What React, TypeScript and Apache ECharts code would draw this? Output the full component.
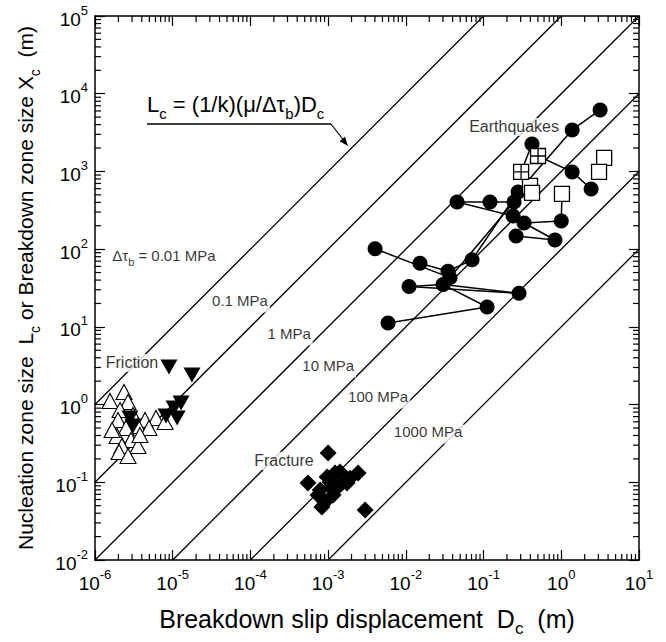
import React, { useEffect, useRef } from "react";
import * as echarts from "echarts";

const X_MIN = 1e-6;
const X_MAX = 10;
const Y_MIN = 1e-2;
const Y_MAX = 1e5;

// Lc / Dc ratio of each constant-stress-drop line, with its label
const lineRatios = [1e6, 1e5, 1e4, 1e3, 1e2, 1e1];
const stressLabels = ["{n|Δτ}{s|b}{n| = 0.01 MPa}", "{n|0.1 MPa}", "{n|1 MPa}", "{n|10 MPa}", "{n|100 MPa}", "{n|1000 MPa}"];
const stressLabelD = [7.7e-6, 7.34e-5, 3.14e-4, 1.0e-3, 4.39e-3, 0.0193];
const stressLabelL = [77, 20.3, 7.64, 2.96, 1.18, 0.419];

const groupLabels = ["Friction", "Fracture", "Earthquakes"];
const groupLabelD = [2.99e-6, 2.7e-4, 0.247];
const groupLabelL = [3.43, 0.188, 3740];

// Earthquakes
const eqCircleD = [3.16, 1.38, 0.42, 1.38, 2.42, 0.0456, 0.121, 0.247, 0.278, 0.24, 0.332, 1.0, 0.262, 0.83, 0.00402, 0.0152, 0.0349, 0.0711, 0.037, 0.0301, 0.011, 0.286, 0.111, 0.0059];
const eqCircleL = [6190, 3420, 2260, 986, 595, 405, 405, 405, 545, 267, 217, 231, 148, 131, 101, 66, 52, 73, 43, 35, 33, 27, 18, 11.2];
const eqOpenSqD = [3.56, 3.06, 0.396, 0.42, 1.02];
const eqOpenSqL = [1490, 986, 650, 529, 513];
const eqCrossSqD = [0.502, 0.304];
const eqCrossSqL = [1580, 986];
const eqLinks: [string, string][] = [
  ["c0", "c1"], ["c1", "c8"], ["c3", "c4"], ["c5", "c6"], ["c6", "c7"], ["c5", "c9"],
  ["c10", "c11"], ["c10", "c13"], ["c12", "c13"], ["c14", "c18"], ["c15", "c16"],
  ["c20", "c19"], ["c20", "c21"], ["c19", "c21"], ["c19", "c22"], ["c23", "c22"],
  ["c16", "c17"], ["c17", "c8"], ["c18", "c7"], ["x0", "c3"], ["x1", "c2"], ["s4", "c11"], ["s3", "c8"],
];

// Friction
const fricOpenD = [1.56e-6, 2.36e-6, 2.66e-6, 2.1e-6, 3.08e-6, 1.98e-6, 4.4e-6, 6.1e-6, 7.96e-6, 3.57e-6, 2.51e-6, 4.95e-6, 1.92e-6, 2.9e-6, 2.22e-6, 3.57e-6, 2.04e-6, 2.66e-6, 1.66e-6, 3.79e-6];
const fricOpenL = [1.11, 1.45, 1.08, 0.853, 0.734, 0.634, 0.634, 0.673, 0.597, 0.531, 0.5, 0.5, 0.394, 0.35, 0.293, 0.293, 0.245, 0.218, 0.471, 0.406];
const fricFilledD = [8.95e-6, 1.77e-5, 1.28e-5, 1.04e-5, 8.2e-6, 1.14e-5, 2.82e-6, 3.08e-6];
const fricFilledL = [3.05, 2.4, 1.05, 0.904, 0.713, 0.673, 0.673, 0.531];

// Fracture
const fracD = [1.0e-3, 5.5e-4, 7.9e-4, 9.7e-4, 1.23e-3, 1.42e-3, 1.91e-3, 2.43e-3, 1.12e-3, 9.1e-4, 8.3e-4, 1.16e-3, 1.75e-3, 2.99e-3, 7.4e-4, 1.42e-3, 1.06e-3];
const fracL = [0.238, 0.098, 0.0796, 0.117, 0.132, 0.136, 0.113, 0.132, 0.0845, 0.0557, 0.048, 0.0687, 0.098, 0.044, 0.0687, 0.092, 0.101];

const FONT = "'Liberation Sans', Arial, Helvetica, sans-serif";

const zip = (a: number[], b: number[]) => a.map((v, i) => [v, b[i]]);

function pointOf(id: string): number[] {
  const k = id[0];
  const i = parseInt(id.slice(1), 10);
  if (k === "c") return [eqCircleD[i], eqCircleL[i]];
  if (k === "s") return [eqOpenSqD[i], eqOpenSqL[i]];
  return [eqCrossSqD[i], eqCrossSqL[i]];
}

function minorValues(lo: number, hi: number): number[] {
  const out: number[] = [];
  for (let e = Math.round(Math.log10(lo)); e < Math.round(Math.log10(hi)); e++) {
    for (let m = 2; m <= 9; m++) out.push(m * Math.pow(10, e));
  }
  return out;
}

const tickLabelRich = {
  b: { fontSize: 19, lineHeight: 25, verticalAlign: "bottom", color: "#000", fontFamily: FONT },
  s: { fontSize: 13, verticalAlign: "top", color: "#000", fontFamily: FONT },
};
const expFormatter = (v: number) => `{b|10}{s|${Math.round(Math.log10(v))}}`;

export default function App() {
  const ref = useRef<HTMLDivElement>(null);
  useEffect(() => {
    if (!ref.current) return;
    const chart = echarts.init(ref.current, undefined, { renderer: "svg" });

    const refLineData = lineRatios.map((c) => {
      const ds = Math.max(X_MIN, Y_MIN / c);
      const de = Math.min(X_MAX, Y_MAX / c);
      return { coords: [[ds, c * ds], [de, c * de]] };
    });

    const axisCommon = {
      type: "log",
      logBase: 10,
      axisLine: { show: true, lineStyle: { color: "#000", width: 1.5 } },
      axisTick: { show: true, inside: true, length: 10, lineStyle: { color: "#000", width: 1.2 } },
      splitLine: { show: false },
      minorTick: { show: false },
    };

    const option: any = {
      animation: false,
      backgroundColor: "#fff",
      grid: { left: 95, right: 27, top: 16, bottom: 82, containLabel: false },
      xAxis: [
        {
          ...axisCommon,
          min: X_MIN,
          max: X_MAX,
          position: "bottom",
          axisLabel: { margin: 8, formatter: expFormatter, rich: tickLabelRich },
          name: "{n|Breakdown slip displacement  D}{s|c}{n|  (m)}",
          nameLocation: "middle",
          nameGap: 46,
          nameTextStyle: {
            rich: {
              n: { fontSize: 25, lineHeight: 31, verticalAlign: "top", color: "#000", fontFamily: FONT },
              s: { fontSize: 17, verticalAlign: "bottom", color: "#000", fontFamily: FONT },
            },
          },
        },
        { ...axisCommon, min: X_MIN, max: X_MAX, position: "top", axisLabel: { show: false } },
      ],
      yAxis: [
        {
          ...axisCommon,
          min: Y_MIN,
          max: Y_MAX,
          position: "left",
          axisLabel: { margin: 7, formatter: expFormatter, rich: tickLabelRich },
          name: "{n|Nucleation zone size  L}{s|c}{n| or Breakdown zone size X}{s|c}{n|  (m)}",
          nameLocation: "middle",
          nameRotate: 90,
          nameGap: 53,
          nameTextStyle: {
            rich: {
              n: { fontSize: 21, lineHeight: 27, verticalAlign: "top", color: "#000", fontFamily: FONT },
              s: { fontSize: 14, verticalAlign: "bottom", color: "#000", fontFamily: FONT },
            },
          },
        },
        { ...axisCommon, min: Y_MIN, max: Y_MAX, position: "right", axisLabel: { show: false } },
      ],
      graphic: [
        {
          type: "text",
          x: 147,
          y: 107,
          z: 10,
          style: {
            text: "{n|L}{s|c}{n| = (1/k)(μ/Δτ}{s|b}{n|)D}{s|c}",
            verticalAlign: "middle",
            align: "left",
            rich: {
              n: { fontSize: 22, lineHeight: 27, verticalAlign: "top", fill: "#000", fontFamily: FONT },
              s: { fontSize: 15, verticalAlign: "bottom", fill: "#000", fontFamily: FONT },
            },
          },
        },
        { type: "line", z: 10, shape: { x1: 147, y1: 124, x2: 331, y2: 124 }, style: { stroke: "#000", lineWidth: 1.5 } },
        { type: "line", z: 10, shape: { x1: 331, y1: 124, x2: 345, y2: 142 }, style: { stroke: "#000", lineWidth: 1.2 } },
        { type: "polygon", z: 10, shape: { points: [[348, 146], [339.6, 141.2], [345, 136.8]] }, style: { fill: "#000" } },
      ],
      series: [
        {
          type: "lines",
          coordinateSystem: "cartesian2d",
          z: 1,
          silent: true,
          lineStyle: { color: "#000", width: 1.3, opacity: 1 },
          data: refLineData,
        },
        {
          type: "scatter",
          z: 3,
          silent: true,
          symbol: "rect",
          symbolSize: 1,
          itemStyle: { color: "rgba(0,0,0,0)" },
          data: stressLabelD.map((d, i) => [d, stressLabelL[i], stressLabels[i]]),
          label: {
            show: true,
            position: "inside",
            formatter: (p: any) => p.data[2],
            backgroundColor: "#fff",
            padding: [0, 2],
            rich: {
              n: { fontSize: 15, lineHeight: 19, verticalAlign: "top", color: "#000", fontFamily: FONT },
              s: { fontSize: 11, verticalAlign: "bottom", color: "#000", fontFamily: FONT },
            },
          },
        },
        {
          type: "scatter",
          z: 3,
          silent: true,
          symbol: "rect",
          symbolSize: 1,
          itemStyle: { color: "rgba(0,0,0,0)" },
          data: groupLabelD.map((d, i) => [d, groupLabelL[i], groupLabels[i]]),
          label: {
            show: true,
            position: "inside",
            formatter: (p: any) => p.data[2],
            backgroundColor: "#fff",
            padding: [1, 2],
            color: "#000",
            fontSize: 16,
            fontFamily: FONT,
          },
        },
        {
          type: "lines",
          coordinateSystem: "cartesian2d",
          z: 4,
          silent: true,
          lineStyle: { color: "#000", width: 1.5, opacity: 1 },
          data: eqLinks.map(([a, b]) => ({ coords: [pointOf(a), pointOf(b)] })),
        },
        {
          type: "scatter",
          z: 5,
          symbol: "circle",
          symbolSize: 15,
          itemStyle: { color: "#000", opacity: 1 },
          data: zip(eqCircleD, eqCircleL),
        },
        {
          type: "scatter",
          z: 6,
          symbol: "rect",
          symbolSize: 15,
          itemStyle: { color: "#fff", borderColor: "#000", borderWidth: 1.3, opacity: 1 },
          data: zip(eqOpenSqD, eqOpenSqL),
        },
        {
          type: "scatter",
          z: 6,
          symbol: "path://M0,0L10,0L10,10L0,10Z M5,0L5,10 M0,5L10,5",
          symbolSize: 15,
          itemStyle: { color: "#fff", borderColor: "#000", borderWidth: 1.3, opacity: 1 },
          data: zip(eqCrossSqD, eqCrossSqL),
        },
        {
          type: "scatter",
          z: 4,
          symbol: "triangle",
          symbolSize: [16, 15],
          itemStyle: { color: "#fff", borderColor: "#000", borderWidth: 1.1, opacity: 1 },
          data: zip(fricOpenD, fricOpenL),
        },
        {
          type: "scatter",
          z: 5,
          symbol: "triangle",
          symbolRotate: 180,
          symbolSize: [17, 15],
          itemStyle: { color: "#000", opacity: 1 },
          data: zip(fricFilledD, fricFilledL),
        },
        {
          type: "scatter",
          z: 5,
          symbol: "diamond",
          symbolSize: 17,
          itemStyle: { color: "#000", opacity: 1 },
          data: zip(fracD, fracL),
        },
        {
          type: "custom",
          z: 2,
          silent: true,
          data: minorValues(X_MIN, X_MAX).map((v) => [v, Y_MIN]),
          renderItem: (params: any, api: any) => {
            const v = api.value(0);
            const b = api.coord([v, Y_MIN]);
            const t = api.coord([v, Y_MAX]);
            const st = { stroke: "#000", lineWidth: 1.2 };
            return {
              type: "group",
              children: [
                { type: "line", shape: { x1: b[0], y1: b[1], x2: b[0], y2: b[1] - 6 }, style: st },
                { type: "line", shape: { x1: t[0], y1: t[1], x2: t[0], y2: t[1] + 6 }, style: st },
              ],
            };
          },
        },
        {
          type: "custom",
          z: 2,
          silent: true,
          data: minorValues(Y_MIN, Y_MAX).map((v) => [X_MIN, v]),
          renderItem: (params: any, api: any) => {
            const v = api.value(1);
            const l = api.coord([X_MIN, v]);
            const r = api.coord([X_MAX, v]);
            const st = { stroke: "#000", lineWidth: 1.2 };
            return {
              type: "group",
              children: [
                { type: "line", shape: { x1: l[0], y1: l[1], x2: l[0] + 6, y2: l[1] }, style: st },
                { type: "line", shape: { x1: r[0], y1: r[1], x2: r[0] - 6, y2: r[1] }, style: st },
              ],
            };
          },
        },
      ],
    };
    chart.setOption(option);
    return () => chart.dispose();
  }, []);
  return (
    <div
      ref={ref}
      style={{ position: "fixed", left: 0, top: 0, width: 666, height: 642, background: "#fff" }}
    />
  );
}
